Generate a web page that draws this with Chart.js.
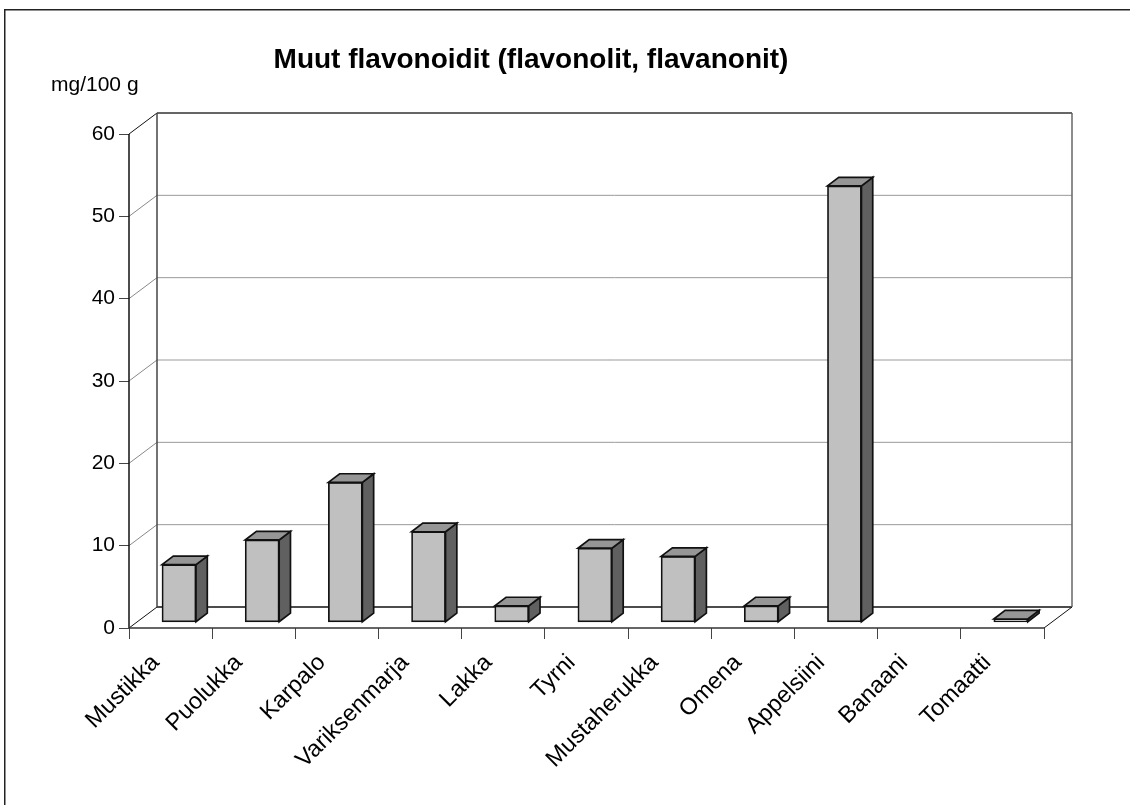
<!DOCTYPE html>
<html lang="fi">
<head>
<meta charset="utf-8">
<title>Muut flavonoidit</title>
<script src="https://cdn.jsdelivr.net/npm/chart.js@4"></script>
<style>
html,body{margin:0;padding:0;background:#fff;overflow:hidden}
#wrap{position:relative;width:1130px;height:805px}
</style>
</head>
<body>
<div id="wrap"><canvas id="c" width="1130" height="805"></canvas></div>
<script>
const categories = ['Mustikka','Puolukka','Karpalo','Variksenmarja','Lakka','Tyrni','Mustaherukka','Omena','Appelsiini','Banaani','Tomaatti'];
const values = [7,10,17,11,2,9,8,2,53,null,0.4];
const yTicks = [0,10,20,30,40,50,60];
const chartTitle = 'Muut flavonoidit (flavonolit, flavanonit)';
const unitLabel = 'mg/100 g';

const FONT = '"Liberation Sans", Arial, sans-serif';
const WALL = {dx: 28, dy: -21};        // receding depth of the plot box
const BAR_SHIFT = {dx: 8.4, dy: -5.7}; // where a bar stands on the floor
const BAR_DEPTH = {dx: 11.3, dy: -8.6};
const EDGE = 1.7;

function line(ctx, x1, y1, x2, y2, color, width) {
  ctx.beginPath();
  ctx.moveTo(x1, y1);
  ctx.lineTo(x2, y2);
  ctx.strokeStyle = color;
  ctx.lineWidth = width;
  ctx.stroke();
}

function face(ctx, pts, fill) {
  ctx.beginPath();
  pts.forEach((p, i) => i ? ctx.lineTo(p[0], p[1]) : ctx.moveTo(p[0], p[1]));
  ctx.closePath();
  ctx.fillStyle = fill;
  ctx.fill();
  ctx.strokeStyle = '#111';
  ctx.lineWidth = EDGE;
  ctx.lineJoin = 'miter';
  ctx.stroke();
}

// Page frame, headings and the walls and floor of the box
const boxPlugin = {
  id: 'box',
  beforeDatasetsDraw(chart) {
    const {ctx, chartArea: a, scales: {y}} = chart;
    const bx = a.left + WALL.dx, rx = a.right + WALL.dx;
    ctx.save();
    ctx.strokeStyle = '#222';
    ctx.lineWidth = 1.5;
    ctx.strokeRect(4.75, 9.75, 1400, 1000);

    ctx.fillStyle = '#000';
    ctx.textAlign = 'center';
    ctx.textBaseline = 'alphabetic';
    ctx.font = 'bold 28px ' + FONT;
    ctx.fillText(chartTitle, 531, 68);
    ctx.textAlign = 'left';
    ctx.font = '21px ' + FONT;
    ctx.fillText(unitLabel, 51, 91);

    yTicks.forEach(v => {
      const py = y.getPixelForValue(v);
      const backY = py + WALL.dy;
      const strong = v === 0 || v === 60;
      line(ctx, a.left, py, bx, backY, strong ? '#111' : '#888', 1);
      line(ctx, bx, backY, rx, backY, v === 0 ? '#111' : v === 60 ? '#333' : '#999', v === 0 || v === 60 ? 1.5 : 1);
    });
    const top = y.getPixelForValue(60) + WALL.dy;
    const floor = y.getPixelForValue(0) + WALL.dy;
    line(ctx, bx, top, bx, floor, '#444', 1.5);
    line(ctx, rx, top, rx, floor, '#666', 1.5);
    line(ctx, a.right, a.bottom, rx, floor, '#111', 1);
    line(ctx, a.left, a.top, a.left, a.bottom, '#111', 1.5);
    line(ctx, a.left, a.bottom, a.right, a.bottom, '#333', 1.5);
    ctx.restore();
  },
  // Bars are shifted onto the floor; Chart.js draws the front face
  beforeDatasetDraw(chart) {
    chart.ctx.save();
    chart.ctx.translate(BAR_SHIFT.dx, BAR_SHIFT.dy);
  },
  // The top and side faces follow each bar element's own geometry
  afterDatasetDraw(chart, args) {
    const ctx = chart.ctx;
    const {dx, dy} = BAR_DEPTH;
    args.meta.data.forEach((bar, i) => {
      if (values[i] === null) return;
      const {x, y, base, width} = bar.getProps(['x', 'y', 'base', 'width'], true);
      const l = x - width / 2, r = x + width / 2;
      face(ctx, [[r, y], [r + dx, y + dy], [r + dx, base + dy], [r, base]], '#606060');
      face(ctx, [[l, y], [l + dx, y + dy], [r + dx, y + dy], [r, y]], '#969696');
    });
    ctx.restore();
  }
};

new Chart(document.getElementById('c'), {
  type: 'bar',
  data: {
    labels: categories,
    datasets: [{
      data: values,
      backgroundColor: '#C0C0C0',
      borderColor: '#111',
      borderWidth: EDGE,
      borderSkipped: false,
      barThickness: 34,
      clip: false
    }]
  },
  plugins: [boxPlugin],
  options: {
    responsive: false,
    animation: false,
    layout: {padding: {left: 0, top: 134, right: 86, bottom: 0}},
    plugins: {legend: {display: false}, title: {display: false}, tooltip: {enabled: false}},
    scales: {
      x: {
        afterFit(s) { s.height = 177; },
        border: {display: false},
        grid: {display: true, drawOnChartArea: false, drawTicks: true, tickLength: 11, tickColor: '#444', tickWidth: 1},
        ticks: {
          color: '#000',
          font: {family: FONT, size: 23.5},
          minRotation: 45,
          maxRotation: 45,
          autoSkip: false,
          padding: 10,
          labelOffset: -15
        }
      },
      y: {
        min: 0,
        max: 60,
        afterFit(s) { s.width = 129; },
        afterBuildTicks(s) { s.ticks = yTicks.map(v => ({value: v})); },
        border: {display: false},
        grid: {display: true, drawOnChartArea: false, drawTicks: true, tickLength: 10, tickColor: '#444', tickWidth: 1},
        ticks: {
          color: '#000',
          font: {family: FONT, size: 21},
          padding: 4
        }
      }
    }
  }
});
</script>
</body>
</html>
